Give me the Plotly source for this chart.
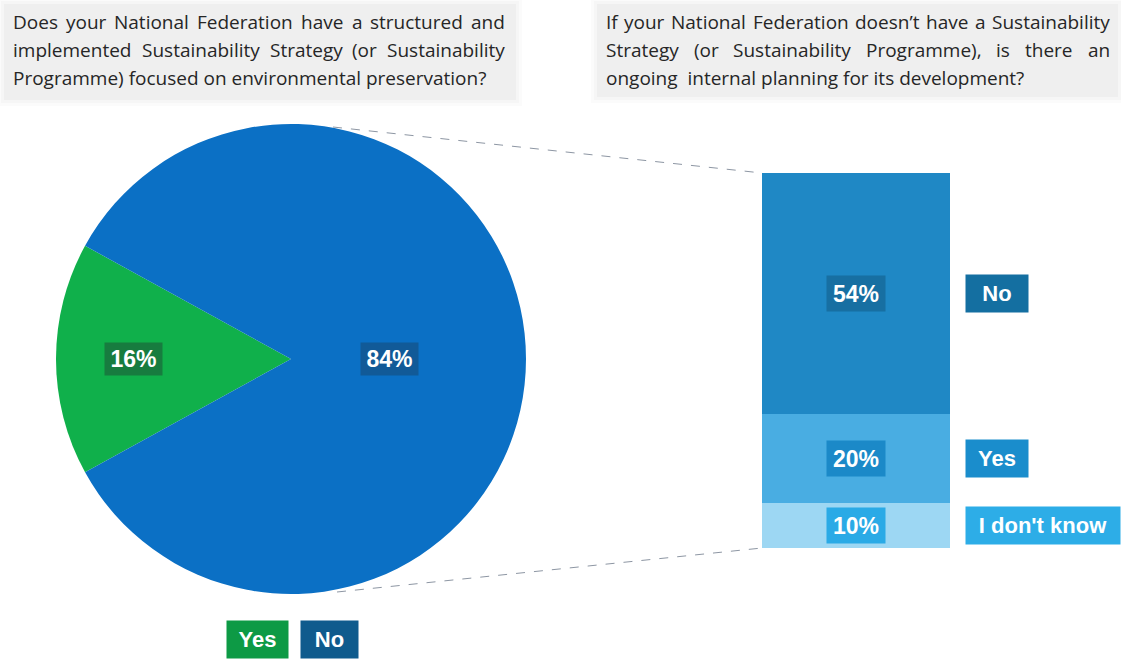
import math
import plotly.graph_objects as go

W, H = 1121, 666

# ---- data ----
pie_labels = ["Yes", "No"]
pie_values = [16, 84]
pie_colors = ["#10b04b", "#0b70c5"]
pie_label_bg = ["#177c3f", "#115a98"]
legend_bottom_bg = ["#0d9a45", "#0f5b8d"]

bar_labels = ["No", "Yes", "I don't know"]
bar_values = [54, 20, 10]
bar_colors = ["#1f88c5", "#49ade2", "#9dd7f3"]
bar_label_bg = ["#176fa2", "#1b89c8", "#2aaae6"]
bar_legend_bg = ["#146fa1", "#1a8dcc", "#2dade7"]

left_question = [
    "Does your National Federation have a structured and",
    "implemented Sustainability Strategy (or Sustainability",
    "Programme) focused on environmental preservation?",
]
right_question = [
    "If your National Federation doesn\u2019t have a Sustainability",
    "Strategy (or Sustainability Programme), is there an",
    "ongoing \u00a0internal planning for its development?",
]


def px(x):
    return x / W


def py(y):
    return 1 - y / H


TEXT_FONT = "Open Sans, Liberation Sans, Arial, sans-serif"
BOLD_FONT = "Liberation Sans, Arial, sans-serif"
TEXT_SIZE = 19
TEXT_COLOR = "#262626"

# approximate Open Sans advance widths (em) used to justify lines
CHAR_W = {
    " ": .26, "a": .556, "b": .613, "c": .476, "d": .613, "e": .561, "f": .339,
    "g": .548, "h": .614, "i": .253, "j": .253, "k": .525, "l": .253, "m": .930,
    "n": .614, "o": .604, "p": .613, "q": .613, "r": .408, "s": .477, "t": .353,
    "u": .614, "v": .501, "w": .778, "x": .525, "y": .502, "z": .468,
    "D": .724, "F": .534, "I": .290, "N": .758, "P": .586, "S": .544,
    "(": .291, ")": .291, ",": .245, "?": .429, "\u2019": .177, "\u00a0": .26,
}


def text_width(s, size):
    return sum(CHAR_W.get(c, .56) for c in s) * size


# ---- layout geometry (pixels) ----
pie_cx, pie_cy, pie_r = 291, 359, 235
bar_x0, bar_x1, bar_top, bar_bottom = 762, 950, 173, 548

fig = go.Figure()

# Pie: first slice centred at 9 o'clock, drawn clockwise
yes_span = 360 * pie_values[0] / sum(pie_values)
fig.add_trace(go.Pie(
    labels=pie_labels,
    values=pie_values,
    sort=False,
    direction="clockwise",
    rotation=270 - yes_span / 2,
    marker=dict(colors=pie_colors, line=dict(width=0)),
    textinfo="none",
    hoverinfo="label+percent",
    showlegend=False,
    domain=dict(x=[px(pie_cx - pie_r), px(pie_cx + pie_r)],
                y=[py(pie_cy + pie_r), py(pie_cy - pie_r)]),
))

# Stacked bar, bottom segment first
order = list(range(len(bar_values)))[::-1]
for i in order:
    fig.add_trace(go.Bar(
        x=[""],
        y=[bar_values[i]],
        name=bar_labels[i],
        marker=dict(color=bar_colors[i], line=dict(width=0)),
        showlegend=False,
        hoverinfo="name+y",
    ))

annotations = []
shapes = []


def label(text, x, y, xref="paper", yref="paper", xanchor="center", **kw):
    d = dict(text=text, x=x, y=y, xref=xref, yref=yref,
             xanchor=xanchor, yanchor="middle", showarrow=False)
    d.update(kw)
    annotations.append(d)


def text_line(line, x0, x1, y, justify):
    font = dict(family=TEXT_FONT, size=TEXT_SIZE, color=TEXT_COLOR)
    if not justify:
        label(line, px(x0), py(y), xanchor="left", font=font, borderpad=0)
        return
    words = line.split(" ")
    widths = [text_width(w, TEXT_SIZE) for w in words]
    gap = (x1 - x0 - sum(widths)) / (len(words) - 1)
    x = x0
    for w, wd in zip(words, widths):
        label(w, px(x), py(y), xanchor="left", font=font, borderpad=0)
        x += wd + gap


# Question boxes with soft edges
for (x0, x1, y0, y1) in [(4, 516, 4, 100), (597, 1118, 4, 97)]:
    for pad, op in [(6, 0.25), (3, 0.45), (0, 1.0)]:
        shapes.append(dict(
            type="rect", xref="paper", yref="paper", layer="below",
            x0=px(x0 - pad), x1=px(x1 + pad), y0=py(y1 + pad), y1=py(y0 - pad),
            fillcolor="#efefef", opacity=op, line=dict(width=0),
        ))

line_ys = [22, 50, 78]
for k, (txt, yy) in enumerate(zip(left_question, line_ys)):
    text_line(txt, 12, 504, yy, justify=k < 2)
for k, (txt, yy) in enumerate(zip(right_question, line_ys)):
    text_line(txt, 605, 1109, yy, justify=k < 2)

# Pie value labels
start = 270 - yes_span / 2
acc = 0
radial = [0.67, 0.42]
for v, bg, rf in zip(pie_values, pie_label_bg, radial):
    mid = start + 360 * (acc + v / 2) / sum(pie_values)
    acc += v
    ang = math.radians(mid)
    lx = pie_cx + rf * pie_r * math.sin(ang)
    ly = pie_cy - rf * pie_r * math.cos(ang)
    label(f"{v}%", px(lx), py(ly), bgcolor=bg, width=57, height=32, borderpad=0,
          font=dict(family=BOLD_FONT, size=23, color="white", weight="bold"))

# Bar value labels and side labels
cum = 0
mids = {}
for i in order:
    mids[i] = cum + bar_values[i] / 2
    cum += bar_values[i]
for i in range(len(bar_values)):
    label(f"{bar_values[i]}%", 0, mids[i], xref="x", yref="y",
          bgcolor=bar_label_bg[i], width=58, height=35, borderpad=0,
          font=dict(family=BOLD_FONT, size=23, color="white", weight="bold"))
    label(bar_labels[i], px(965), mids[i], yref="y", xanchor="left",
          bgcolor=bar_legend_bg[i],
          width=62 if len(bar_labels[i]) < 5 else 154, height=37, borderpad=0,
          font=dict(family=BOLD_FONT, size=22, color="white", weight="bold"))

# Bottom legend for the pie
for lab, bg, cx, w in zip(pie_labels, legend_bottom_bg, [257.5, 329.5], [61, 57]):
    label(lab, px(cx), py(639.5), bgcolor=bg, width=w, height=37, borderpad=0,
          font=dict(family=BOLD_FONT, size=22, color="white", weight="bold"))

# Dashed connectors from the pie to the bar
for (ax, ay), (bx, by) in [((333, 127), (bar_x0, bar_top)), ((337, 592), (bar_x0, bar_bottom))]:
    shapes.append(dict(
        type="line", xref="paper", yref="paper",
        x0=px(ax), y0=py(ay), x1=px(bx), y1=py(by),
        line=dict(color="#8d96a3", width=1, dash="dash"),
    ))

fig.update_layout(
    width=W, height=H,
    margin=dict(l=0, r=0, t=0, b=0),
    paper_bgcolor="white", plot_bgcolor="rgba(0,0,0,0)",
    barmode="stack", bargap=0,
    xaxis=dict(domain=[px(bar_x0), px(bar_x1)], visible=False, fixedrange=True),
    yaxis=dict(domain=[py(bar_bottom), py(bar_top)], range=[0, sum(bar_values)],
               visible=False, fixedrange=True),
    annotations=annotations,
    shapes=shapes,
)

fig.write_html("out.html")
